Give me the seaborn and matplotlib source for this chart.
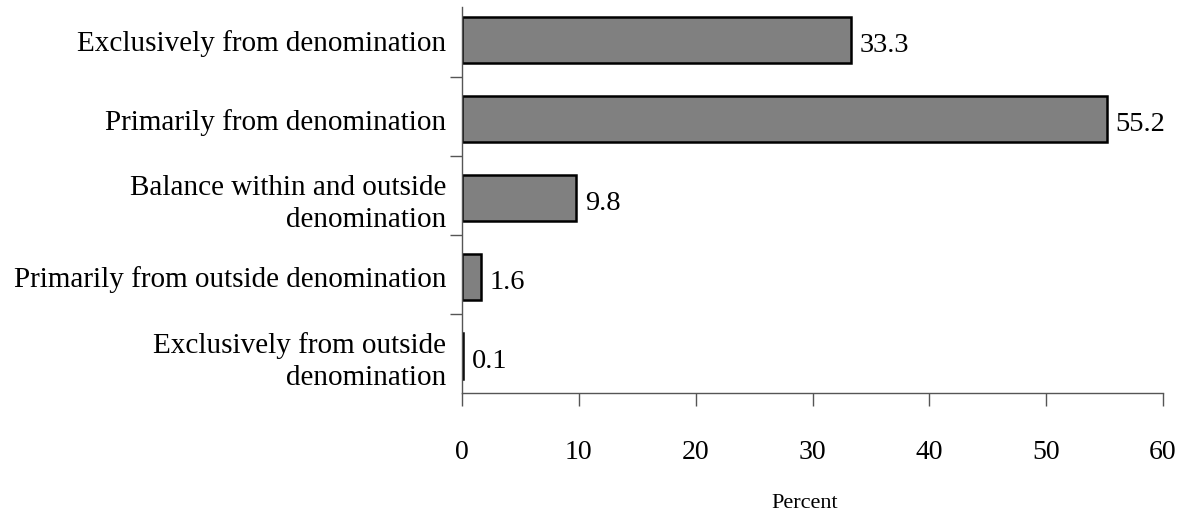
import matplotlib
matplotlib.use('Agg')
import matplotlib.pyplot as plt
import seaborn as sns
import pandas as pd

sns.set_style('ticks')
plt.rcParams['font.family'] = ['Liberation Serif', 'DejaVu Serif']
plt.rcParams['text.color'] = 'black'
plt.rcParams['xtick.labelcolor'] = 'black'
plt.rcParams['ytick.labelcolor'] = 'black'
plt.rcParams['axes.labelcolor'] = 'black'

categories = ['Exclusively from denomination',
              'Primarily from denomination',
              'Balance within and outside\ndenomination',
              'Primarily from outside denomination',
              'Exclusively from outside\ndenomination']
percent = [33.3, 55.2, 9.8, 1.6, 0.1]
labels = ['33.3', '55.2', '9.8', '1.6', '0.1']

df = pd.DataFrame({'category': categories, 'percent': percent})

fig = plt.figure(figsize=(11.91, 5.15), dpi=100)
ax = fig.add_axes([462 / 1191, 1 - 393 / 515, (1163 - 462) / 1191, (393 - 7) / 515])

sns.barplot(data=df, x='percent', y='category', orient='h', color='#808080',
            saturation=1, width=0.58, edgecolor='black', linewidth=1.8, ax=ax)

# value labels just right of each bar end
for i, (v, t) in enumerate(zip(percent, labels)):
    ax.text(v + 0.75, i + 0.07, t, va='center', ha='left', fontsize=20.5)

ax.set_xlim(0, 60)
ax.set_ylim(4.47, -0.42)
ax.set_xticks(range(0, 61, 10))
ax.tick_params(axis='x', direction='out', length=9, width=1, color='#555555',
               labelsize=20, pad=25)
ax.tick_params(axis='y', which='major', length=0, labelsize=21, pad=11.5)
for lbl in ax.get_yticklabels():
    lbl.set_linespacing(1.3)
# tick marks sit between categories
ax.set_yticks([0.47, 1.47, 2.47, 3.47], minor=True)
ax.tick_params(axis='y', which='minor', direction='out', length=9, width=1,
               color='#555555')
ax.set_ylabel('')
ax.set_xlabel('Percent', fontsize=16)
ax.xaxis.set_label_coords((805 - 462) / 701, -0.262)

for s in ['top', 'right']:
    ax.spines[s].set_visible(False)
for s in ['left', 'bottom']:
    ax.spines[s].set_color('#555555')
    ax.spines[s].set_linewidth(1)

fig.savefig('out.png', dpi=100)
